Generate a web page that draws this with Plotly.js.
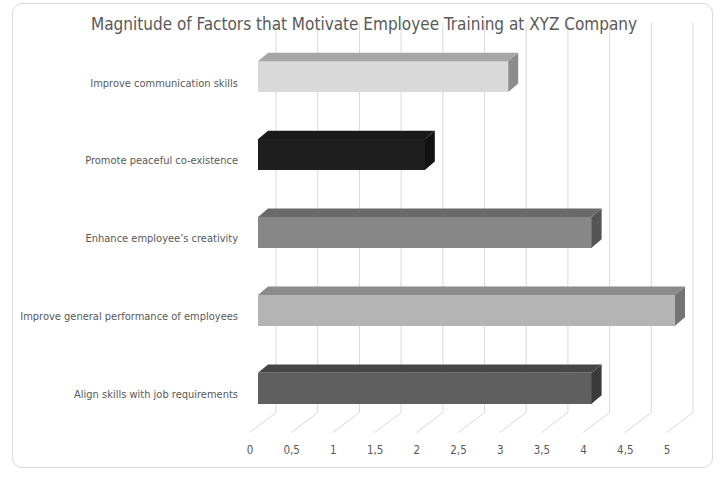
<!DOCTYPE html>
<html>
<head>
<meta charset="utf-8">
<script src="https://cdn.plot.ly/plotly-3.0.1.min.js"></script>
<style>
  html, body { margin: 0; padding: 0; background: #ffffff; }
  #wrap { position: relative; width: 720px; height: 477px; }
  #chart { position: absolute; left: 0; top: 0; width: 720px; height: 477px; }
  #frame { position: absolute; left: 12px; top: 3px; width: 701px; height: 465px;
           border: 1px solid #d9d9d9; border-radius: 10px; pointer-events: none; box-sizing: border-box; }
</style>
</head>
<body>
<div id="wrap"><div id="chart"></div><div id="frame"></div></div>
<script>
// ---- data (bottom to top) ----
const categories = [
  'Align skills with job requirements',
  'Improve general performance of employees',
  'Enhance employee\u2019s creativity',
  'Promote peaceful co-existence',
  'Improve communication skills'
];
const values = [4, 5, 4, 2, 3];
const tickValues = [0, 0.5, 1, 1.5, 2, 2.5, 3, 3.5, 4, 4.5, 5];
const tickLabels = ['0', '0,5', '1', '1,5', '2', '2,5', '3', '3,5', '4', '4,5', '5'];
const chartTitle = 'Magnitude of Factors that Motivate Employee Training at XYZ Company';

// ---- styles ----
const frontColors = ['#5f5f5f', '#b4b4b4', '#878787', '#1f1f1f', '#d9d9d9'];
const topColors   = ['#464646', '#8b8b8b', '#6a6a6a', '#1a1a1a', '#a6a6a6'];
const sideColors  = ['#3a3a3a', '#747474', '#555555', '#121212', '#8c8c8c'];
const FONT = '"DejaVu Sans Condensed", "Liberation Sans Narrow", Arial, sans-serif';

// 3D geometry in axis units
const barW = 0.395;          // front face thickness (category units)
const dx = 0.12, dy = 0.109; // bar depth offset
const frontOff = -0.102, backOff = 0.216; // floor front / back planes (x units)
const floorFrontY = -0.569, floorBackY = -0.312, wallTopY = 4.694;

const yPos = categories.map((c, i) => i);

const traces = [];
traces.push({
  type: 'bar', orientation: 'h', x: values, y: yPos, width: barW,
  marker: { color: frontColors, line: { width: 0 } }, hoverinfo: 'x+y', showlegend: false
});
values.forEach((v, i) => {
  const yt = yPos[i] + barW / 2, yb = yPos[i] - barW / 2;
  traces.push({
    type: 'scatter', mode: 'lines', fill: 'toself', fillcolor: topColors[i],
    line: { width: 0, color: topColors[i] }, hoverinfo: 'skip', showlegend: false,
    x: [0, v, v + dx, dx, 0], y: [yt, yt, yt + dy, yt + dy, yt]
  });
  traces.push({
    type: 'scatter', mode: 'lines', fill: 'toself', fillcolor: sideColors[i],
    line: { width: 0, color: sideColors[i] }, hoverinfo: 'skip', showlegend: false,
    x: [v, v + dx, v + dx, v, v], y: [yb, yb + dy, yt + dy, yt, yb]
  });
});

const shapes = [];
tickValues.forEach(t => {
  shapes.push({ type: 'line', layer: 'below', xref: 'x', yref: 'y',
    x0: t + backOff, x1: t + backOff, y0: floorBackY, y1: wallTopY,
    line: { color: '#d9d9d9', width: 1 } });
  shapes.push({ type: 'line', layer: 'below', xref: 'x', yref: 'y',
    x0: t + frontOff, x1: t + backOff, y0: floorFrontY, y1: floorBackY,
    line: { color: '#d9d9d9', width: 1 } });
});

const layout = {
  width: 720, height: 477,
  margin: { l: 248, r: 20, t: 19, b: 42, pad: 0 },
  paper_bgcolor: 'rgba(0,0,0,0)', plot_bgcolor: 'rgba(0,0,0,0)',
  showlegend: false,
  title: { text: chartTitle, xref: 'container', yref: 'container', x: 0.5056, y: 0.95,
           xanchor: 'center', yanchor: 'middle',
           font: { family: FONT, size: 17, color: '#595959' } },
  xaxis: {
    range: [-0.12, -0.12 + 452 / 83.4], showgrid: false, zeroline: false, showline: false,
    tickmode: 'array', tickvals: tickValues, ticktext: tickLabels, ticks: '',
    ticklabelshift: -8, ticklabelstandoff: 6,
    tickfont: { family: FONT, size: 11.5, color: '#595959' }, fixedrange: true
  },
  yaxis: {
    range: [-0.6, -0.6 + 416 / 77.9], showgrid: false, zeroline: false, showline: false,
    tickmode: 'array', tickvals: yPos, ticktext: categories, ticks: '',
    ticklabelshift: 6, ticklabelstandoff: 9,
    tickfont: { family: FONT, size: 11, color: '#595959' }, fixedrange: true
  },
  shapes: shapes,
  bargap: 0
};

Plotly.newPlot('chart', traces, layout, { staticPlot: true, displayModeBar: false });
</script>
</body>
</html>
